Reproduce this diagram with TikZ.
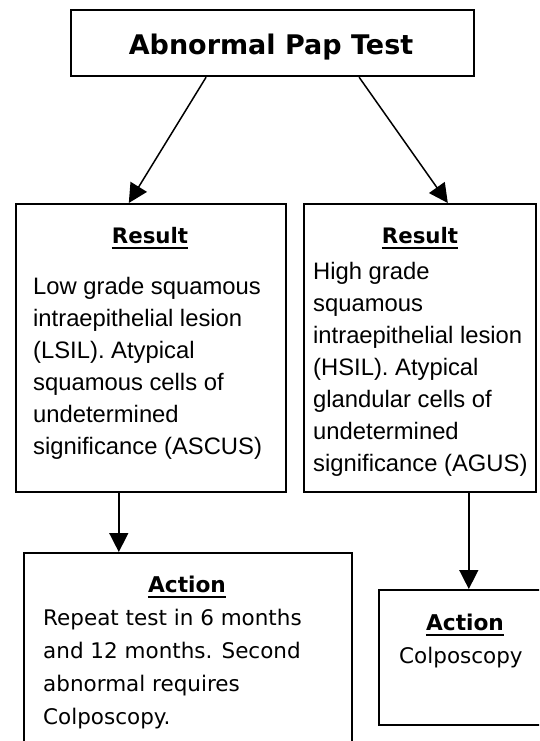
\documentclass[tikz,border=0pt]{standalone}
\usepackage{fontspec}
\setmainfont{Liberation Sans}
\newfontfamily\comicfont{DejaVu Sans}
\usetikzlibrary{arrows.meta}

\begin{document}
\begin{tikzpicture}[x=1pt,y=-1pt]
  \useasboundingbox (0,0) rectangle (539,741);
  \clip (0,0) rectangle (539,741);
  % boxes
  \begin{scope}[
    every node/.style={
      draw,
      line width=1.6pt,
      anchor=north west,
      inner sep=0pt,
    },
    ]
    \node[line width=2.2pt,minimum width=403pt,minimum height=66pt] (pap) at (70,9) {};
    \node[minimum width=270pt,minimum height=288pt] (lres) at (15,203) {};
    \node[minimum width=232pt,minimum height=288pt] (rres) at (303,203) {};
    \node[minimum width=328pt,minimum height=230pt] (lact) at (23,552) {};
    \node[minimum width=180pt,minimum height=135pt] (ract) at (378,589) {};
  \end{scope}
  % headings
  \begin{scope}[
    every node/.style={anchor=base,inner sep=0pt,font=\comicfont\bfseries},
    ]
    \node[font=\fontsize{27}{32}\comicfont\bfseries] (paptitle) at (271,55) {Abnormal Pap Test};
    \node[font=\fontsize{21.3}{26}\comicfont\bfseries] (lrestitle) at (150,243) {Result};
    \node[font=\fontsize{21.3}{26}\comicfont\bfseries] (rrestitle) at (420,243) {Result};
    \node[font=\fontsize{21.7}{26}\comicfont\bfseries] (lacttitle) at (187,592) {Action};
    \node[font=\fontsize{21.7}{26}\comicfont\bfseries] (racttitle) at (465,630) {Action};
  \end{scope}
  \foreach \t in {lrestitle,rrestitle,lacttitle,racttitle}
    \draw[line width=1.5pt] ([yshift=-5pt]\t.base west) -- ([yshift=-5pt]\t.base east);
  % body text
  \begin{scope}[
    every node/.style={anchor=base west,inner sep=0pt,font=\fontsize{23.8}{32}\selectfont},
    ]
    \foreach \txt [count=\i from 0] in {Low grade squamous,intraepithelial lesion,
      (LSIL). Atypical,squamous cells of,undetermined,significance (ASCUS)}
      \node (lres-\i) at (33,{294+32*\i}) {\txt};
    \foreach \txt [count=\i from 0] in {High grade,squamous,intraepithelial lesion,
      (HSIL). Atypical,glandular cells of,undetermined,significance (AGUS)}
      \node (rres-\i) at (313,{279+32*\i}) {\txt};
  \end{scope}
  \begin{scope}[
    every node/.style={anchor=base west,inner sep=0pt,font=\fontsize{21.5}{33}\comicfont},
    ]
    \foreach \txt [count=\i from 0] in {Repeat test in 6 months,and 12 months.  Second,
      abnormal requires,Colposcopy.}
      \node (lact-\i) at (43,{625+33*\i}) {\txt};
    \node (ract-0) at (399,663) {Colposcopy};
  \end{scope}
  % arrows
  \begin{scope}[
    every edge/.style={draw,line width=1.5pt,-{Triangle[length=19pt,width=19pt]}},
    ]
    \path
    ([xshift=-66.5pt]pap.south) edge ([xshift=-22pt]lres.north)
    ([xshift=86.5pt]pap.south)  edge ([xshift=28pt]rres.north)
    ([xshift=-32pt]lres.south)  edge ([xshift=-69pt]lact.north)
    ([xshift=49pt]rres.south)   edge (ract.north);
  \end{scope}
\end{tikzpicture}
\end{document}
